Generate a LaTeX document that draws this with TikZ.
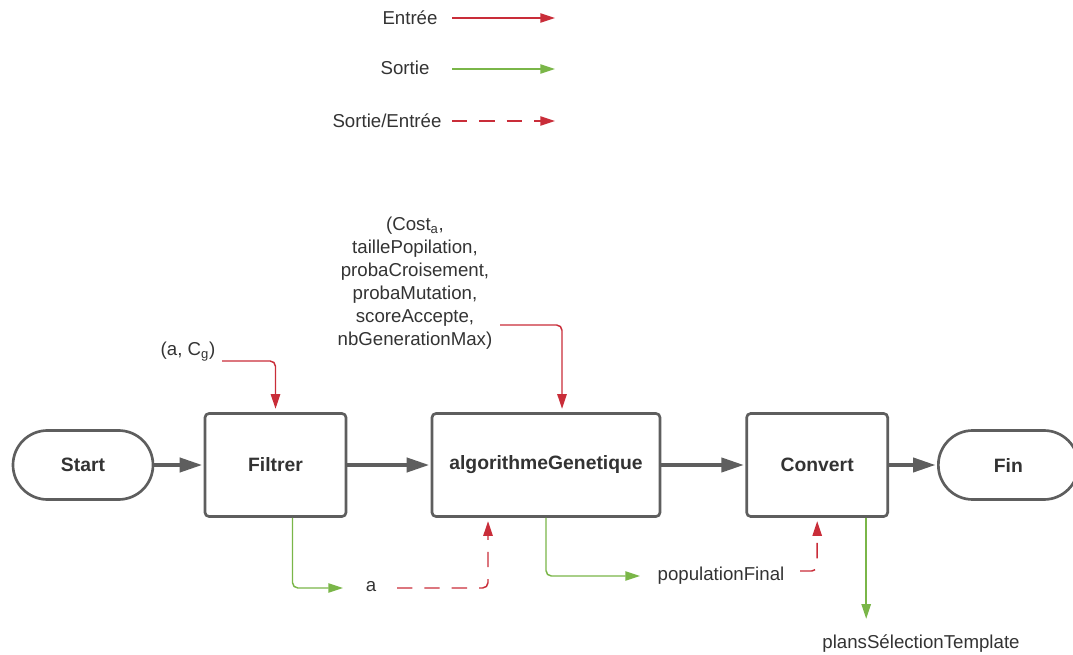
\documentclass[tikz,border=0pt]{standalone}
\usepackage{fontspec}
\setmainfont{Liberation Sans}
\usepackage{xcolor}
\definecolor{colorEntree}{HTML}{C92D39}
\definecolor{colorSortie}{HTML}{7AB648}
\definecolor{colorBord}{HTML}{5E5E5E}
\definecolor{colorTexte}{HTML}{333333}
\newcommand{\taille}{\fontsize{14}{17.25}\selectfont}
\newcommand{\tailleBloc}{\fontsize{14.5}{17.25}\selectfont\bfseries}
\usetikzlibrary{arrows.meta, calc, positioning}

\begin{document}
\begin{tikzpicture}[x=0.75pt, y=-0.75pt, font=\taille, text=colorTexte,
  bloc/.style={draw=colorBord, line width=2pt, rounded corners=3pt, fill=white, inner sep=0pt, minimum width=105.75pt, minimum height=77.25pt, font=\tailleBloc},
  terminal/.style={bloc, minimum width=105pt, minimum height=51.75pt, rounded corners=25.8pt},
  flux/.style={-{Triangle[length=17pt, width=10.5pt]}, line width=3pt, draw=colorBord, shorten >=1pt},
  entree/.style={-{Triangle[length=11pt, width=7pt]}, line width=1.1pt, draw=colorEntree, rounded corners=4pt},
  sortie/.style={entree, draw=colorSortie},
  retour/.style={entree, dash pattern=on 11.5pt off 9pt}]
\clip (0,0) rectangle (1073,655);
\node (lgEntree) at (410,18) {Entrée};
\node (lgSortie) at (405,68) {Sortie};
\node (lgRetour) at (387,121) {Sortie/Entrée};
\coordinate (lgE1) at (452,18);  \coordinate (lgE2) at (555,18);
\coordinate (lgS1) at (452,69);  \coordinate (lgS2) at (555,69);
\coordinate (lgR1) at (452,121); \coordinate (lgR2) at (555,121);
\draw[entree] (lgE1) -- (lgE2);
\draw[sortie] (lgS1) -- (lgS2);
\draw[retour] (lgR1) -- (lgR2);

\node[terminal] (start) at (83,465) {Start};
\node[bloc, right=37pt of start] (filtrer) {Filtrer};
\node[bloc, right=62.5pt of filtrer, minimum width=171pt] (algo) {algorithmeGenetique};
\node[bloc, right=63pt of algo] (convert) {Convert};
\node[terminal, right=36pt of convert] (fin) {Fin};
\draw[flux] (start) -- (filtrer);
\draw[flux] (filtrer) -- (algo);
\draw[flux] (algo) -- (convert);
\draw[flux] (convert) -- (fin);

\node (cg) at (188,352) {(a, C\textsubscript{g})};
\node[align=center] (params) at (415,283) {(Cost\textsubscript{a},\\taillePopilation,\\probaCroisement,\\probaMutation,\\scoreAccepte,\\nbGenerationMax)};
\node (a) at (371,587) {a};
\node (popFinal) at (721,576) {populationFinal};
\node (plans) at (921,644) {plansSélectionTemplate};
\coordinate (cgOut) at (222,361);
\coordinate (paramsOut) at (500,325);
\coordinate (aIn) at (343,588);
\coordinate (aOut) at (397,588);
\coordinate (popIn) at (640,576);
\coordinate (popOut) at (800,571);

\draw[entree, shorten >=2.5pt] (cgOut) -| (filtrer.north);
\draw[entree, shorten >=2.5pt] (paramsOut) -| ($(algo.north)+(16,0)$);
\draw[sortie] ($(filtrer.south)+(17,0)$) |- (aIn);
\draw[retour, shorten >=2.5pt] (aOut) -| ($(algo.south)+(-58,0)$);
\draw[sortie] (algo.south) |- (popIn);
\draw[retour, shorten >=2.5pt] (popOut) -| (convert.south);
\draw[sortie] ($(convert.south)+(49,0)$) -- ++(0,101);
\end{tikzpicture}
\end{document}
